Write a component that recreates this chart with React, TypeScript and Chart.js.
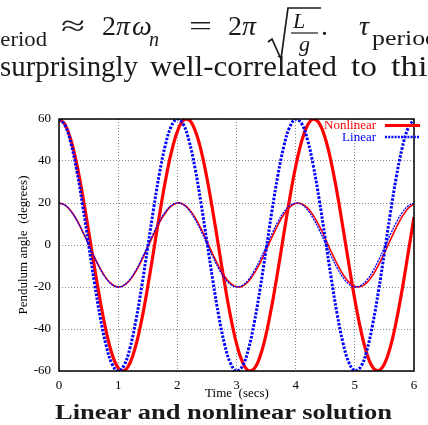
import { useEffect, useRef } from "react";
import { Chart, registerables } from "chart.js";

Chart.register(...registerables);

// Time samples (seconds)
const TIME = [
  0, 0.1, 0.2, 0.3, 0.4, 0.5, 0.6, 0.7, 0.8, 0.9,
  1, 1.1, 1.2, 1.3, 1.4, 1.5, 1.6, 1.7, 1.8, 1.9,
  2, 2.1, 2.2, 2.3, 2.4, 2.5, 2.6, 2.7, 2.8, 2.9,
  3, 3.1, 3.2, 3.3, 3.4, 3.5, 3.6, 3.7, 3.8, 3.9,
  4, 4.1, 4.2, 4.3, 4.4, 4.5, 4.6, 4.7, 4.8, 4.9,
  5, 5.1, 5.2, 5.3, 5.4, 5.5, 5.6, 5.7, 5.8, 5.9,
  6,
];

// Pendulum angle (degrees), 60 deg release, linear model
const LINEAR_60 = [
  60.0, 57.1, 48.6, 35.4, 18.8, 0.3, -18.2, -34.9, -48.2, -56.9,
  -60.0, -57.3, -49.0, -35.9, -19.4, -1.0, 17.5, 34.4, 47.8, 56.7,
  60.0, 57.5, 49.4, 36.5, 20.0, 1.6, -16.9, -33.8, -47.4, -56.4,
  -60.0, -57.7, -49.8, -37.0, -20.7, -2.3, 16.3, 33.3, 47.0, 56.2,
  59.9, 57.8, 50.1, 37.5, 21.3, 3.0, -15.6, -32.7, -46.6, -56.0,
  -59.9, -58.0, -50.5, -38.0, -21.9, -3.6, 15.0, 32.2, 46.2, 55.7,
  59.9,
];

// 60 deg release, nonlinear model
const NONLINEAR_60 = [
  60.0, 57.5, 50.1, 38.5, 23.6, 6.7, -10.7, -27.2, -41.5, -52.2,
  -58.5, -59.9, -56.2, -47.7, -35.3, -19.8, -2.7, 14.6, 30.8, 44.3,
  54.0, 59.3, 59.5, 54.6, 45.2, 31.9, 16.0, -1.3, -18.5, -34.1,
  -46.9, -55.7, -59.8, -58.8, -52.9, -42.5, -28.5, -12.1, 5.3, 22.3,
  37.4, 49.3, 57.0, 60.0, 57.9, 50.8, 39.5, 24.9, 8.1, -9.3,
  -26.0, -40.4, -51.5, -58.2, -59.9, -56.7, -48.6, -36.4, -21.2, -4.1,
  13.3,
];

// 20 deg release, linear model
const LINEAR_20 = [
  20.0, 19.0, 16.2, 11.8, 6.3, 0.1, -6.1, -11.6, -16.1, -19.0,
  -20.0, -19.1, -16.3, -12.0, -6.5, -0.3, 5.8, 11.5, 15.9, 18.9,
  20.0, 19.2, 16.5, 12.2, 6.7, 0.5, -5.6, -11.3, -15.8, -18.8,
  -20.0, -19.2, -16.6, -12.3, -6.9, -0.8, 5.4, 11.1, 15.7, 18.7,
  20.0, 19.3, 16.7, 12.5, 7.1, 1.0, -5.2, -10.9, -15.5, -18.7,
  -20.0, -19.3, -16.8, -12.7, -7.3, -1.2, 5.0, 10.7, 15.4, 18.6,
  20.0,
];

// 20 deg release, nonlinear model
const NONLINEAR_20 = [
  20.0, 19.0, 16.3, 11.9, 6.4, 0.4, -5.8, -11.4, -15.9, -18.8,
  -20.0, -19.2, -16.7, -12.5, -7.1, -1.0, 5.1, 10.8, 15.4, 18.6,
  20.0, 19.4, 17.0, 13.0, 7.8, 1.7, -4.4, -10.2, -15.0, -18.3,
  -19.9, -19.6, -17.4, -13.5, -8.4, -2.4, 3.7, 9.6, 14.5, 18.0,
  19.8, 19.7, 17.7, 14.0, 9.0, 3.1, -3.1, -9.0, -14.0, -17.7,
  -19.7, -19.8, -18.0, -14.5, -9.6, -3.8, 2.4, 8.3, 13.5, 17.4,
  19.6,
];

const X_TICKS = [0, 1, 2, 3, 4, 5, 6];
const Y_TICKS = [-60, -40, -20, 0, 20, 40, 60];
const LEGEND_LABELS = ["Nonlinear", "Linear"];

const SERIF = '"Liberation Serif", "Times New Roman", serif';

export default function App() {
  const ref = useRef<HTMLCanvasElement>(null);

  useEffect(() => {
    if (!ref.current) return;
    const pts = (ys: number[]) => ys.map((y, i) => ({ x: TIME[i], y }));

    const framePlugin = {
      id: "frame",
      afterDraw(chart: any) {
        const { ctx, chartArea: a } = chart;
        ctx.save();
        ctx.strokeStyle = "#000";
        ctx.lineWidth = 1.5;
        ctx.setLineDash([]);
        ctx.strokeRect(a.left, a.top, a.right - a.left, a.bottom - a.top);
        ctx.font = `13px ${SERIF}`;
        ctx.textAlign = "right";
        ctx.textBaseline = "middle";
        ctx.fillStyle = "#ff0000";
        ctx.fillText(LEGEND_LABELS[0], 376, 26);
        ctx.fillStyle = "#0000ff";
        ctx.fillText(LEGEND_LABELS[1], 376, 37.5);
        ctx.strokeStyle = "#ff0000";
        ctx.lineWidth = 3;
        ctx.beginPath();
        ctx.moveTo(385, 25.5);
        ctx.lineTo(420, 25.5);
        ctx.stroke();
        ctx.strokeStyle = "#0000ff";
        ctx.lineWidth = 2.5;
        ctx.setLineDash([2, 1.2]);
        ctx.beginPath();
        ctx.moveTo(385, 37);
        ctx.lineTo(420, 37);
        ctx.stroke();
        ctx.setLineDash([]);
        ctx.fillStyle = "#000";
        ctx.textAlign = "center";
        ctx.font = `13px ${SERIF}`;
        ctx.fillText("Time  (secs)", 237, 294);
        ctx.translate(24, 145);
        ctx.rotate(-Math.PI / 2);
        ctx.fillText("Pendulum angle  (degrees)", 0, 0);
        ctx.restore();
      },
    };

    const common = { pointRadius: 0, tension: 0.4, fill: false };

    const chart = new Chart(ref.current, {
      type: "line",
      data: {
        datasets: [
          { label: "Linear 20", data: pts(LINEAR_20), borderColor: "#0000ff", borderWidth: 1.3, borderDash: [2, 1], order: 0, ...common },
          { label: "Linear", data: pts(LINEAR_60), borderColor: "#0000ff", borderWidth: 3, borderDash: [2.5, 1.5], order: 1, ...common },
          { label: "Nonlinear 20", data: pts(NONLINEAR_20), borderColor: "#ff0000", borderWidth: 1.6, order: 2, ...common },
          { label: "Nonlinear", data: pts(NONLINEAR_60), borderColor: "#ff0000", borderWidth: 3.2, order: 3, ...common },
        ] as any,
      },
      options: {
        animation: false,
        responsive: false,
        layout: { padding: { left: 0, right: 14, top: 19, bottom: 0 } },
        plugins: { legend: { display: false }, tooltip: { enabled: false } },
        scales: {
          x: {
            type: "linear",
            min: 0,
            max: 6,
            afterBuildTicks: (s: any) => { s.ticks = X_TICKS.map((v) => ({ value: v })); },
            afterFit: (s: any) => { s.height = 34; },
            ticks: { padding: 7, color: "#000", font: { family: SERIF, size: 13 } },
            grid: { drawTicks: false, color: "#8a8a8a", lineWidth: 1 },
            border: { display: false, dash: [1, 2] },
          },
          y: {
            type: "linear",
            min: -60,
            max: 60,
            afterBuildTicks: (s: any) => { s.ticks = Y_TICKS.map((v) => ({ value: v })); },
            afterFit: (s: any) => { s.width = 59; },
            ticks: { padding: 8, color: "#000", font: { family: SERIF, size: 13 } },
            grid: { drawTicks: false, color: "#8a8a8a", lineWidth: 1 },
            border: { display: false, dash: [1, 2] },
          },
        },
      },
      plugins: [framePlugin],
    });
    return () => chart.destroy();
  }, []);

  const it = { fontStyle: "italic" } as const;
  return (
    <div style={{ position: "absolute", left: 0, top: 0, width: 428, height: 425, overflow: "hidden", background: "#fff" }}>
      <canvas ref={ref} width={428} height={305} style={{ position: "absolute", left: 0, top: 100, width: 428, height: 305 }} />
      <svg width={428} height={425} style={{ position: "absolute", left: 0, top: 0 }} fontFamily={SERIF} fill="#1a1a1a">
        <text x={-30} y={35} fontSize={28} {...it}>τ</text>
        <text x={-11} y={46} fontSize={21} textLength={58} lengthAdjust="spacingAndGlyphs">period</text>
        <text x={61} y={35} fontSize={28} textLength={24} lengthAdjust="spacingAndGlyphs">≈</text>
        <text x={102} y={35} fontSize={28}>2</text>
        <text x={116} y={35} fontSize={28} {...it}>π</text>
        <text x={132} y={35} fontSize={28} {...it}>ω</text>
        <text x={149} y={46} fontSize={20} {...it}>n</text>
        <text x={189} y={35} fontSize={28} textLength={23} lengthAdjust="spacingAndGlyphs">=</text>
        <text x={228} y={35} fontSize={28}>2</text>
        <text x={242} y={35} fontSize={28} {...it}>π</text>
        <path d="M268 42 L272 39 L281 59 L288 8 L321 8" stroke="#1a1a1a" strokeWidth={1.7} fill="none" />
        <text x={293} y={28} fontSize={22} {...it}>L</text>
        <line x1={291} x2={318} y1={33} y2={33} stroke="#1a1a1a" strokeWidth={1.2} />
        <text x={299} y={51} fontSize={22} {...it}>g</text>
        <text x={321} y={35} fontSize={28}>.</text>
        <text x={359} y={35} fontSize={28} {...it}>τ</text>
        <text x={372} y={45} fontSize={21} textLength={66} lengthAdjust="spacingAndGlyphs">period</text>

        <text x={0} y={76} fontSize={29} textLength={138} lengthAdjust="spacingAndGlyphs">surprisingly</text>
        <text x={150} y={76} fontSize={29} textLength={187} lengthAdjust="spacingAndGlyphs">well-correlated</text>
        <text x={351} y={76} fontSize={29} textLength={26} lengthAdjust="spacingAndGlyphs">to</text>
        <text x={391} y={76} fontSize={29} textLength={50} lengthAdjust="spacingAndGlyphs">this</text>

        <text x={55} y={419} fontSize={20} fontWeight="bold" textLength={337} lengthAdjust="spacingAndGlyphs">Linear and nonlinear solution</text>
      </svg>
    </div>
  );
}
